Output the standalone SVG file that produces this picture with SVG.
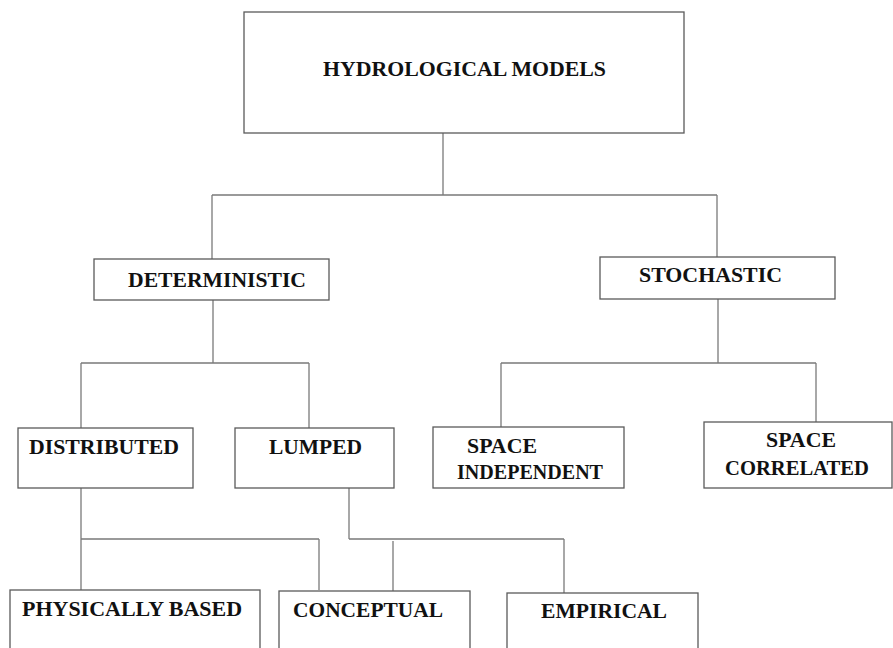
<svg xmlns="http://www.w3.org/2000/svg" width="893" height="648" viewBox="0 0 893 648">
<style>
.box{fill:#fff;stroke:#5a5a5a;stroke-width:1.3}
.ln{fill:none;stroke:#7a7a7a;stroke-width:1.3}
.t{font-family:"Liberation Serif","Times New Roman",serif;font-weight:bold;font-size:21.5px;fill:#111}
</style>
<rect width="893" height="648" fill="#fff"/>
<g id="connectors">
<path class="ln" d="M443 133V195M212 195H717M212 195V259M717 195V257"/>
<path class="ln" d="M213 300V363M81 363H309M81 363V428M309 363V428"/>
<path class="ln" d="M718 299V363M501 363H816M501 363V427M816 363V422"/>
<path class="ln" d="M81 488V590M81 539H319M319 539V590"/>
<path class="ln" d="M349 488V539M349 539H564M564 539V593M393 541V591"/>
</g>
<g id="hydrological-models">
<rect class="box" x="244" y="12" width="440" height="121"/>
<text class="t" x="323" y="76" textLength="283" lengthAdjust="spacingAndGlyphs">HYDROLOGICAL MODELS</text>
</g>
<g id="deterministic">
<rect class="box" x="94" y="259" width="235" height="41"/>
<text class="t" x="128" y="287" textLength="178" lengthAdjust="spacingAndGlyphs">DETERMINISTIC</text>
</g>
<g id="stochastic">
<rect class="box" x="600" y="257" width="235" height="42"/>
<text class="t" x="639" y="282" textLength="143" lengthAdjust="spacingAndGlyphs">STOCHASTIC</text>
</g>
<g id="distributed">
<rect class="box" x="18" y="428" width="175" height="60"/>
<text class="t" x="29" y="454" textLength="150" lengthAdjust="spacingAndGlyphs">DISTRIBUTED</text>
</g>
<g id="lumped">
<rect class="box" x="235" y="428" width="159" height="60"/>
<text class="t" x="269" y="454" textLength="93" lengthAdjust="spacingAndGlyphs">LUMPED</text>
</g>
<g id="space-independent">
<rect class="box" x="433" y="427" width="191" height="61"/>
<text class="t" x="467" y="453" textLength="70" lengthAdjust="spacingAndGlyphs">SPACE</text>
<text class="t" x="457" y="479" textLength="146" lengthAdjust="spacingAndGlyphs">INDEPENDENT</text>
</g>
<g id="space-correlated">
<rect class="box" x="704" y="422" width="188" height="66"/>
<text class="t" x="766" y="447" textLength="70" lengthAdjust="spacingAndGlyphs">SPACE</text>
<text class="t" x="725" y="475" textLength="144" lengthAdjust="spacingAndGlyphs">CORRELATED</text>
</g>
<g id="physically-based">
<rect class="box" x="10" y="590" width="250" height="70"/>
<text class="t" x="22" y="616" textLength="220" lengthAdjust="spacingAndGlyphs">PHYSICALLY BASED</text>
</g>
<g id="conceptual">
<rect class="box" x="279" y="591" width="191" height="70"/>
<text class="t" x="293" y="617" textLength="150" lengthAdjust="spacingAndGlyphs">CONCEPTUAL</text>
</g>
<g id="empirical">
<rect class="box" x="507" y="593" width="191" height="70"/>
<text class="t" x="541" y="618" textLength="126" lengthAdjust="spacingAndGlyphs">EMPIRICAL</text>
</g>
</svg>
